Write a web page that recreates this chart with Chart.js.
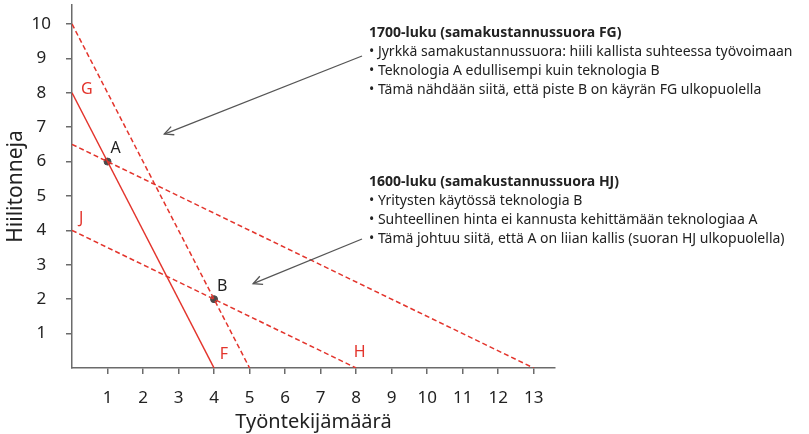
<!DOCTYPE html>
<html>
<head>
<meta charset="utf-8">
<script src="https://cdn.jsdelivr.net/npm/chart.js@4.4.0/dist/chart.umd.min.js"></script>
<style>
html,body{margin:0;padding:0;background:#fff;}
#wrap{position:relative;width:809px;height:434px;}
</style>
</head>
<body>
<div id="wrap"><canvas id="c" width="809" height="434"></canvas></div>
<script>
// ---- data ----
const xTicks = [1,2,3,4,5,6,7,8,9,10,11,12,13];
const yTicks = [1,2,3,4,5,6,7,8,9,10];
const lineFG_x = [0, 4];   const lineFG_y = [8, 0];      // solid FG
const lineB_x  = [0, 5];   const lineB_y  = [10, 0];     // dashed steep through B
const lineA_x  = [0, 13];  const lineA_y  = [6.5, 0];    // dashed flat through A
const lineHJ_x = [0, 8];   const lineHJ_y = [4, 0];      // dashed HJ
const pointNames = ['A', 'B'];
const pointX = [1, 4];
const pointY = [6, 2];
const lineLabels = ['G', 'J', 'F', 'H'];
const lineLabelX = [0.25, 0.2, 4.16, 7.93];
const lineLabelY = [8.1, 4.35, 0.38, 0.45];
const xTitle = 'Työntekijämäärä';
const yTitle = 'Hiilitonneja';
const note1Title = '1700-luku (samakustannussuora FG)';
const note1Lines = [
  '• Jyrkkä samakustannussuora: hiili kallista suhteessa työvoimaan',
  '• Teknologia A edullisempi kuin teknologia B',
  '• Tämä nähdään siitä, että piste B on käyrän FG ulkopuolella'
];
const note2Title = '1600-luku (samakustannussuora HJ)';
const note2Lines = [
  '• Yritysten käytössä teknologia B',
  '• Suhteellinen hinta ei kannusta kehittämään teknologiaa A',
  '• Tämä johtuu siitä, että A on liian kallis (suoran HJ ulkopuolella)'
];
const arrowTip = [[2.6, 6.8], [5.1, 2.45]];

const RED = '#e3342c';
const AXIS = '#6b6b6b';
const TXT = '#222';
const FONT = '"Noto Sans", "Open Sans", sans-serif';

function pts(xs, ys){ return xs.map((x,i)=>({x:x, y:ys[i]})); }

const annot = {
  id: 'annot',
  afterDatasetsDraw(chart){
    const ctx = chart.ctx, xs = chart.scales.x, ys = chart.scales.y;
    ctx.save();
    // line labels
    ctx.fillStyle = RED;
    ctx.font = '16px ' + FONT;
    ctx.textAlign = 'left'; ctx.textBaseline = 'middle';
    lineLabels.forEach((t,i)=>{
      ctx.fillText(t, xs.getPixelForValue(lineLabelX[i]), ys.getPixelForValue(lineLabelY[i]));
    });
    // point labels
    ctx.fillStyle = TXT;
    pointNames.forEach((t,i)=>{
      ctx.fillText(t, xs.getPixelForValue(pointX[i]) + 3, ys.getPixelForValue(pointY[i]) - 13);
    });
    // notes
    function block(title, lines, x, y){
      ctx.fillStyle = TXT;
      ctx.textAlign = 'left'; ctx.textBaseline = 'middle';
      ctx.font = 'bold 14px ' + FONT;
      ctx.fillText(title, x, y);
      ctx.font = '14px ' + FONT;
      lines.forEach((l,i)=> ctx.fillText(l, x, y + 19*(i+1)));
    }
    block(note1Title, note1Lines, 369, 33);
    block(note2Title, note2Lines, 369, 182);
    // arrows
    const starts = [[362, 56], [362, 239]];
    ctx.strokeStyle = '#555'; ctx.lineWidth = 1.3;
    arrowTip.forEach((tp,i)=>{
      const tx = xs.getPixelForValue(tp[0]), ty = ys.getPixelForValue(tp[1]);
      const sx = starts[i][0], sy = starts[i][1];
      ctx.beginPath(); ctx.moveTo(sx, sy); ctx.lineTo(tx, ty); ctx.stroke();
      const a = Math.atan2(ty - sy, tx - sx), L = 10, w = 0.45;
      ctx.beginPath();
      ctx.moveTo(tx - L*Math.cos(a - w), ty - L*Math.sin(a - w));
      ctx.lineTo(tx, ty);
      ctx.lineTo(tx - L*Math.cos(a + w), ty - L*Math.sin(a + w));
      ctx.stroke();
    });
    ctx.restore();
  }
};

const lineDs = (xs, ys, dashed) => ({
  type: 'line',
  data: pts(xs, ys),
  borderColor: RED,
  borderWidth: 1.5,
  borderDash: dashed ? [5, 3] : [],
  pointRadius: 0,
  fill: false,
  tension: 0
});

new Chart(document.getElementById('c'), {
  type: 'scatter',
  data: {
    datasets: [
      lineDs(lineFG_x, lineFG_y, false),
      lineDs(lineB_x, lineB_y, true),
      lineDs(lineA_x, lineA_y, true),
      lineDs(lineHJ_x, lineHJ_y, true),
      {
        type: 'scatter',
        data: pts(pointX, pointY),
        backgroundColor: '#4a4a4a',
        borderColor: '#4a4a4a',
        pointRadius: 3.5
      }
    ]
  },
  options: {
    responsive: false,
    animation: false,
    devicePixelRatio: 1,
    layout: { padding: { top: 3, right: 254, left: 0, bottom: 0 } },
    plugins: { legend: { display: false }, tooltip: { enabled: false } },
    scales: {
      x: {
        type: 'linear', min: 0, max: 13.6,
        afterBuildTicks: s => { s.ticks = xTicks.map(v => ({ value: v })); },
        afterFit: s => { s.height = 66; s.paddingLeft = 0; s.paddingRight = 0; },
        border: { display: true, color: AXIS, width: 1.5 },
        grid: { display: true, drawOnChartArea: false, drawTicks: true, tickLength: 6, color: AXIS, lineWidth: 1.5 },
        ticks: { color: TXT, font: { family: FONT, size: 17 }, padding: 14, maxRotation: 0, autoSkip: false },
        title: { display: true, text: xTitle, color: TXT, font: { family: FONT, size: 20 }, padding: { top: 0, bottom: 0 } }
      },
      y: {
        type: 'linear', min: 0, max: 10.55,
        afterBuildTicks: s => { s.ticks = yTicks.map(v => ({ value: v })); },
        afterFit: s => { s.width = 72; s.paddingTop = 0; s.paddingBottom = 0; },
        border: { display: true, color: AXIS, width: 1.5 },
        grid: { display: true, drawOnChartArea: false, drawTicks: true, tickLength: 6, color: AXIS, lineWidth: 1.5 },
        ticks: { color: TXT, font: { family: FONT, size: 17 }, padding: 15, crossAlign: 'center', autoSkip: false },
        title: { display: true, text: yTitle, color: TXT, font: { family: FONT, size: 21 }, padding: { top: 3, bottom: 0 } }
      }
    }
  },
  plugins: [annot]
});
</script>
</body>
</html>
